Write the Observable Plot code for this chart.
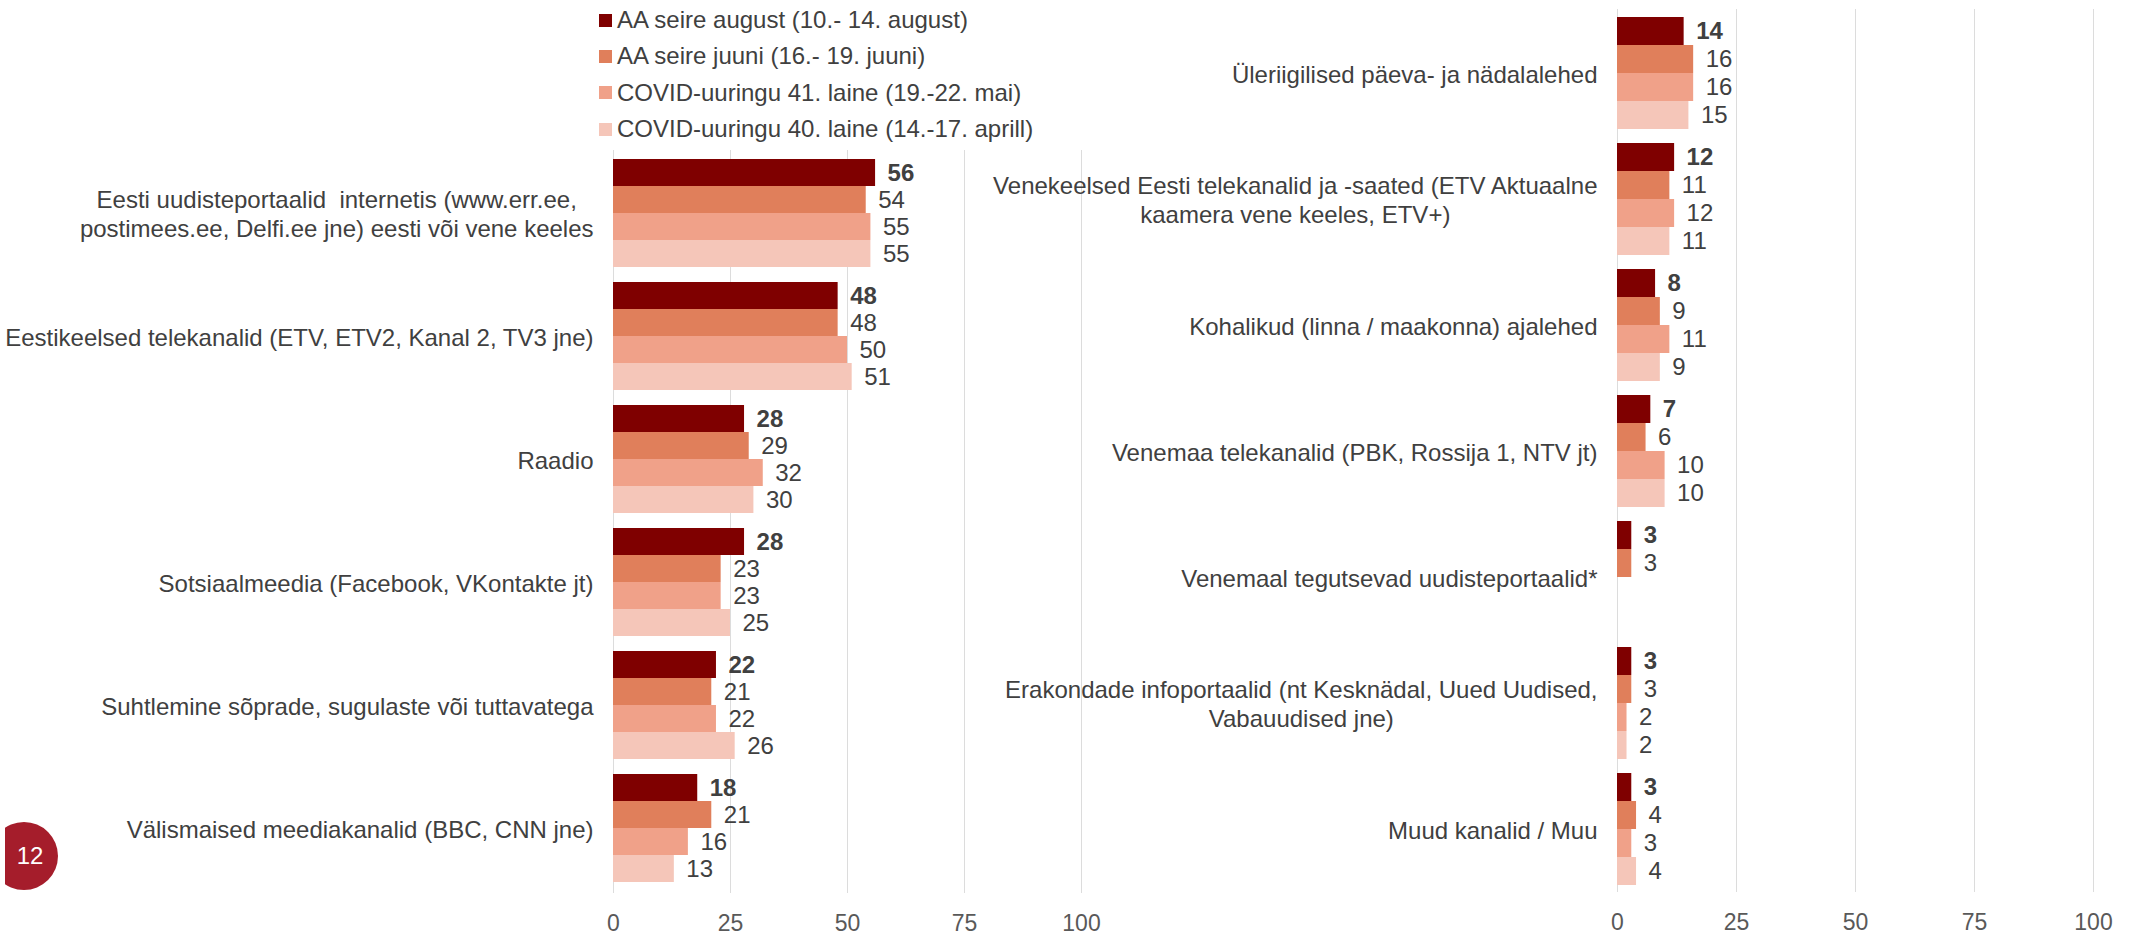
<!DOCTYPE html>
<html>
<head>
<meta charset="utf-8">
<script src="https://cdn.jsdelivr.net/npm/d3@7"></script>
<script src="https://cdn.jsdelivr.net/npm/@observablehq/plot@0.6"></script>
<style>
  html, body { margin: 0; padding: 0; background: #fff; }
  body { font-family: "Liberation Sans", Arial, sans-serif; }
  #wrap { position: relative; width: 2129px; height: 936px; overflow: hidden; background: #fff; }
  #left { position: absolute; left: 0; top: 0; width: 1100px; height: 936px; }
  #right { position: absolute; left: 960px; top: 0; width: 1169px; height: 936px; }
  #legend { position: absolute; left: 599px; top: 2px; font-size: 24px; color: #404040; }
  #legend .row { height: 36.3px; display: flex; align-items: center; white-space: nowrap; }
  #legend .sw { width: 13px; height: 13px; margin-right: 5px; flex: none; }
  #pageclip { position: absolute; left: 5px; top: 822px; width: 53px; height: 68px; overflow: hidden; }
  #page { position: absolute; left: -15px; top: 0; width: 68px; height: 68px; border-radius: 50%;
          background: #a51d2b; color: #fff; font-size: 24px; line-height: 68px; text-align: center; }
  #page span { position: relative; left: 6px; }
</style>
</head>
<body>
<div id="wrap">
  <div id="left"></div>
  <div id="right"></div>
  <div id="legend"></div>
  <div id="pageclip"><div id="page"><span>12</span></div></div>
</div>
<script>
// ---- data ----
const series = [
  "AA seire august (10.- 14. august)",
  "AA seire juuni (16.- 19. juuni)",
  "COVID-uuringu 41. laine (19.-22. mai)",
  "COVID-uuringu 40. laine (14.-17. aprill)"
];
const colors = ["#7f0000", "#e07f5b", "#f0a189", "#f5c6b9"];

const leftCategories = [
  "Eesti uudisteportaalid  internetis (www.err.ee,\npostimees.ee, Delfi.ee jne) eesti või vene keeles",
  "Eestikeelsed telekanalid (ETV, ETV2, Kanal 2, TV3 jne)",
  "Raadio",
  "Sotsiaalmeedia (Facebook, VKontakte jt)",
  "Suhtlemine sõprade, sugulaste või tuttavatega",
  "Välismaised meediakanalid (BBC, CNN jne)"
];
const leftAugust = [56, 48, 28, 28, 22, 18];
const leftJune   = [54, 48, 29, 23, 21, 21];
const leftMay    = [55, 50, 32, 23, 22, 16];
const leftApril  = [55, 51, 30, 25, 26, 13];

const rightCategories = [
  "Üleriigilised päeva- ja nädalalehed",
  "Venekeelsed Eesti telekanalid ja -saated (ETV Aktuaalne\nkaamera vene keeles, ETV+)",
  "Kohalikud (linna / maakonna) ajalehed",
  "Venemaa telekanalid (PBK, Rossija 1, NTV jt)",
  "Venemaal tegutsevad uudisteportaalid*",
  "Erakondade infoportaalid (nt Kesknädal, Uued Uudised,\nVabauudised jne)",
  "Muud kanalid / Muu"
];
const rightAugust = [14, 12, 8, 7, 3, 3, 3];
const rightJune   = [16, 11, 9, 6, 3, 3, 4];
const rightMay    = [16, 12, 11, 10, null, 2, 3];
const rightApril  = [15, 11, 9, 10, null, 2, 4];

const xTicks = [0, 25, 50, 75, 100];

// ---- chart ----
function panel(cats, lists, o) {
  const rows = [];
  cats.forEach((c, i) => lists.forEach((vl, j) => {
    if (vl[i] != null) rows.push({cat: c, series: series[j], value: vl[i]});
  }));
  const first = rows.filter(d => d.series === series[0]);
  const rest = rows.filter(d => d.series !== series[0]);
  return Plot.plot({
    width: o.width,
    height: 936,
    marginLeft: o.ml, marginRight: o.mr, marginTop: o.mt, marginBottom: o.mb,
    style: {background: "transparent", fontFamily: "Liberation Sans, Arial, sans-serif",
            fontSize: "24px", color: "#404040", maxWidth: "none", overflow: "visible"},
    x: {domain: [0, 100]},
    y: {domain: series, axis: null, paddingInner: 0, paddingOuter: 0},
    fy: {domain: cats, paddingInner: o.pad, paddingOuter: 0},
    color: {domain: series, range: colors},
    marks: [
      Plot.ruleX(xTicks, {stroke: "#dcdcdc", strokeWidth: 1, insetTop: o.gt, insetBottom: o.gb}),
      Plot.barX(rows, {x: "value", y: "series", fy: "cat", fill: "series"}),
      Plot.text(first, {x: "value", y: "series", fy: "cat", text: d => String(d.value),
        dx: 12, textAnchor: "start", fontWeight: "bold", fill: "#404040", fontSize: 24}),
      Plot.text(rest, {x: "value", y: "series", fy: "cat", text: d => String(d.value),
        dx: 12, textAnchor: "start", fill: "#404040", fontSize: 24}),
      Plot.axisX(xTicks, {anchor: "bottom", tickSize: 0, tickPadding: o.tp, fill: "#595959",
        fontSize: 23, label: null}),
      Plot.axisFy({anchor: "left", tickSize: 0, tickPadding: 20, fontSize: 24, lineHeight: 1.18,
        fill: "#404040", label: null})
    ]
  });
}

function centerLines(svg) {
  svg.querySelectorAll("text").forEach(t => {
    const ts = t.querySelectorAll("tspan");
    if (ts.length < 2) return;
    const ws = Array.from(ts).map(s => s.getComputedTextLength());
    const m = Math.max(...ws);
    t.setAttribute("text-anchor", "middle");
    ts.forEach(s => s.setAttribute("x", -m / 2));
  });
}

const leftSvg = panel(leftCategories, [leftAugust, leftJune, leftMay, leftApril],
  {width: 1100, ml: 613, mr: 19, mt: 159, mb: 54, pad: 0.122, gt: -9, gb: -11, tp: 32});
document.getElementById("left").appendChild(leftSvg);
centerLines(leftSvg);

const rightSvg = panel(rightCategories, [rightAugust, rightJune, rightMay, rightApril],
  {width: 1169, ml: 657, mr: 36, mt: 15, mb: 50, pad: 0.115, gt: -8, gb: -7, tp: 28});
document.getElementById("right").appendChild(rightSvg);
centerLines(rightSvg);

// ---- legend ----
const legend = document.getElementById("legend");
series.forEach((s, i) => {
  const row = document.createElement("div");
  row.className = "row";
  const sw = document.createElement("div");
  sw.className = "sw";
  sw.style.background = colors[i];
  const tx = document.createElement("span");
  tx.textContent = s;
  row.appendChild(sw);
  row.appendChild(tx);
  legend.appendChild(row);
});
</script>
</body>
</html>
